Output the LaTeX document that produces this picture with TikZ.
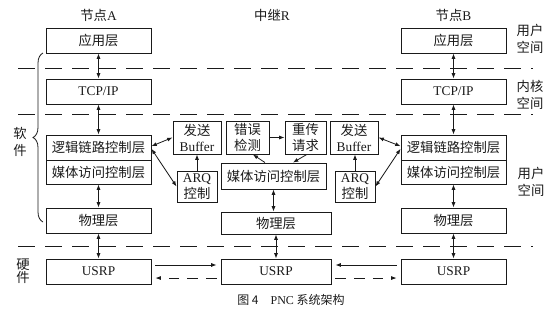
\documentclass[tikz,border=0pt]{standalone}
\usepackage{fontspec}
\setmainfont{Liberation Serif}
\newfontfamily\cjk{Noto Sans CJK SC}
\usetikzlibrary{arrows.meta,decorations.pathreplacing}
\definecolor{ink}{HTML}{1A1A1A}

\begin{document}
\begin{tikzpicture}[x=0.75pt, y=-0.75pt, font=\cjk, ink,
  >={Latex[length=4pt,width=3pt]},
  link/.style={<->, line width=0.6pt},
  feed/.style={->, line width=0.6pt},
  layer/.style={draw, line width=0.7pt, minimum width=78.75pt,
                minimum height=18.75pt, inner sep=0pt},
  unit/.style={draw, line width=0.7pt, align=center, inner sep=0pt},
  side/.style={align=center, inner sep=0pt},
  sep/.style={dash pattern=on 12.75pt off 7.5pt, line width=0.6pt}]

\useasboundingbox (0,0) rectangle (547,312);

% boundaries
\foreach \y in {68,114,246} \draw[sep] (18,\y) -- (533,\y);

% end nodes
\foreach \x/\n in {98.5/A,453.5/B} {
  \node (title\n) at (\x,15) {节点{\rmfamily\n}};
  \node[layer] (app\n) at (\x,40.5) {应用层};
  \node[layer] (tcp\n) at (\x,91.5) {\rmfamily TCP/IP};
  \node[layer] (llc\n) at (\x,147.5) {逻辑链路控制层};
  \node[layer, minimum height=18pt] (mac\n) at (\x,172) {媒体访问控制层};
  \node[layer] (phy\n) at (\x,220.5) {物理层};
  \node[layer] (usrp\n) at (\x,271.5) {\rmfamily USRP};
  \draw[link] (app\n) -- (tcp\n);
  \draw[link] (tcp\n) -- (llc\n);
  \draw[link] (mac\n) -- (phy\n);
  \draw[link] (phy\n) -- (usrp\n);
}

% relay
\node (titleR) at (272,15) {中继{\rmfamily R}};
\node[unit, minimum width=36pt, minimum height=24.75pt] (bufL) at (197,137.5)
  {发送\\{\rmfamily Buffer}};
\node[unit, minimum width=32.25pt, minimum height=24.75pt] (err) at (247.5,137.5)
  {错误\\检测};
\node[unit, minimum width=30.75pt, minimum height=24.75pt] (retx) at (305.5,137.5)
  {重传\\请求};
\node[unit, minimum width=36pt, minimum height=24.75pt] (bufR) at (354,137.5)
  {发送\\{\rmfamily Buffer}};
\node[unit, minimum width=30pt, minimum height=23.25pt] (arqL) at (197,186.5)
  {{\rmfamily ARQ}\\控制};
\node[unit, minimum width=30pt, minimum height=23.25pt] (arqR) at (355,186.5)
  {{\rmfamily ARQ}\\控制};
\node[unit, minimum width=78.75pt, minimum height=19.5pt] (macR) at (273.5,176)
  {媒体访问控制层};
\node[unit, minimum width=82.5pt, minimum height=16.5pt] (phyR) at (276,223)
  {物理层};
\node[unit, minimum width=82.5pt, minimum height=18.75pt] (usrpR) at (276,271.5)
  {\rmfamily USRP};

% relay links
\draw[link] ([yshift=1pt]llcA.east) -- (bufL.west);
\draw[link] ([yshift=-1pt]llcA.east) -- (arqL.west);
\draw[feed] (arqL) -- (bufL);
\draw[feed] (err) -- (retx);
\draw[feed] ([xshift=-6.4pt]macR.north) -- ([xshift=4pt]err.south);
\draw[feed] ([xshift=1pt]retx.south) -- ([xshift=14.6pt]macR.north);
\draw[feed] (arqR.north) -- (arqR.north |- bufR.south);
\draw[link] (bufR.east) -- ([yshift=1pt]llcB.west);
\draw[link] (arqR.east) -- ([yshift=-1pt]llcB.west);
\draw[link] (macR.south) -- (macR.south |- phyR.north);
\draw[link] (phyR) -- (usrpR);

% radio links
\draw[feed, shorten <=3pt, shorten >=3pt]
  ([yshift=4.9pt]usrpA.east) -- ([yshift=4.9pt]usrpR.west);
\draw[feed, dash pattern=on 8pt off 6pt, shorten <=3pt, shorten >=3pt]
  ([yshift=-4.9pt]usrpR.west) -- ([yshift=-4.9pt]usrpA.east);
\draw[feed, shorten <=3pt, shorten >=3pt]
  ([yshift=4.9pt]usrpB.west) -- ([yshift=4.9pt]usrpR.east);
\draw[feed, dash pattern=on 8pt off 6pt, shorten <=3pt, shorten >=3pt]
  ([yshift=-4.9pt]usrpR.east) -- ([yshift=-4.9pt]usrpB.west);

% spaces
\node[side] (user1) at (530,39) {用户\\[1pt]空间};
\node[side] (kern) at (530,95) {内核\\[1pt]空间};
\node[side] (user2) at (531,182) {用户\\[1pt]空间};
\node[side] (soft) at (20,142) {软\\[1pt]件};
\node[side] (hard) at (23,271) {硬\\[-2pt]件};
\draw[decorate, decoration={brace, amplitude=7.5pt}, line width=0.6pt]
  (43,222) -- (43,53);

% caption
\node[font=\cjk\small] (cap) at (291,300) {图 4\quad{\rmfamily PNC} 系统架构};

\end{tikzpicture}
\end{document}
